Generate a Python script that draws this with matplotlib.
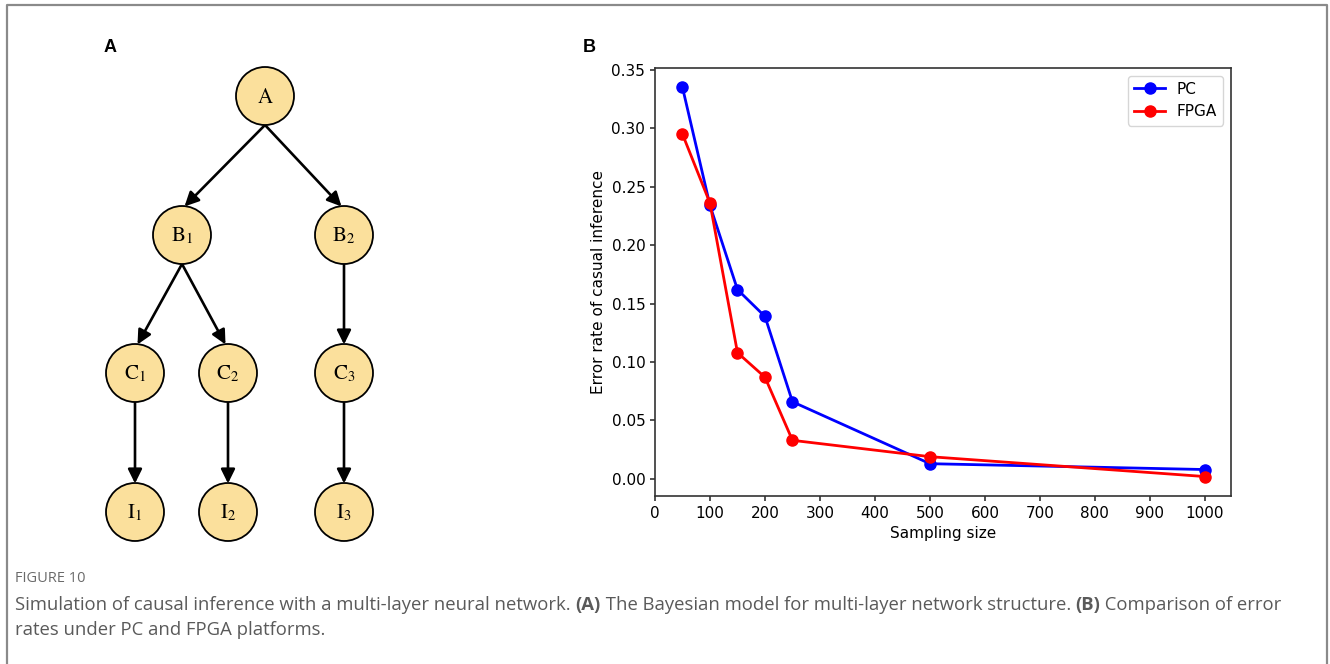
import numpy as np
import matplotlib
matplotlib.use("Agg")
import matplotlib.pyplot as plt
from matplotlib.patches import Circle

# ---------------- data ----------------
sampling_size = [50, 100, 150, 200, 250, 500, 1000]
pc_error = [0.335, 0.234, 0.162, 0.139, 0.066, 0.013, 0.008]
fpga_error = [0.295, 0.236, 0.108, 0.087, 0.033, 0.019, 0.002]
series_labels = ["PC", "FPGA"]
x_ticks = [0, 100, 200, 300, 400, 500, 600, 700, 800, 900, 1000]
y_ticks = [0.00, 0.05, 0.10, 0.15, 0.20, 0.25, 0.30, 0.35]

node_names = ["A", "B1", "B2", "C1", "C2", "C3", "I1", "I2", "I3"]
node_labels = [r"$\mathrm{A}$", r"$\mathrm{B}_{1}$", r"$\mathrm{B}_{2}$",
               r"$\mathrm{C}_{1}$", r"$\mathrm{C}_{2}$", r"$\mathrm{C}_{3}$",
               r"$\mathrm{I}_{1}$", r"$\mathrm{I}_{2}$", r"$\mathrm{I}_{3}$"]
edges = [("A", "B1"), ("A", "B2"), ("B1", "C1"), ("B1", "C2"), ("B2", "C3"),
         ("C1", "I1"), ("C2", "I2"), ("C3", "I3")]

caption_title = "FIGURE 10"
caption_text = [
    ("Simulation of causal inference with a multi-layer neural network. ", False),
    ("(A)", True),
    (" The Bayesian model for multi-layer network structure. ", False),
    ("(B)", True),
    (" Comparison of error", False),
]
caption_line2 = "rates under PC and FPGA platforms."

# ---------------- layout (pixels) ----------------
W, H = 1330, 664
node_pos = {"A": (265, 96), "B1": (182, 235), "B2": (344, 235),
            "C1": (135, 373), "C2": (228, 373), "C3": (344, 373),
            "I1": (135, 512), "I2": (228, 512), "I3": (344, 512)}
R = 29

plt.rcParams["mathtext.fontset"] = "stix"
fig = plt.figure(figsize=(W / 100, H / 100), dpi=100)

bg = fig.add_axes([0, 0, 1, 1])
bg.set_xlim(0, W)
bg.set_ylim(H, 0)
bg.axis("off")

# outer frame
bg.plot([6.5, 6.5, 1326.5, 1326.5], [H + 5, 4.5, 4.5, H + 5], color="#8a8a8a",
        lw=1.6, solid_capstyle="butt", clip_on=False)

# panel labels
bg.text(110, 47, "A", fontsize=13, fontweight="bold", family="Liberation Sans",
        ha="center", va="center")
bg.text(589, 47, "B", fontsize=13, fontweight="bold", family="Liberation Sans",
        ha="center", va="center")

# DAG edges: from bottom of source node to top of target node
for a, b in edges:
    (x0, y0), (x1, y1) = node_pos[a], node_pos[b]
    dx = x1 - x0
    start = (x0, y0 + R)
    end = (x1 - np.sign(dx) * 2.5, y1 - R + 0.5)
    bg.annotate("", xy=end, xytext=start,
                arrowprops=dict(arrowstyle="-|>,head_length=0.85,head_width=0.42",
                                mutation_scale=10, lw=1.9, color="black",
                                shrinkA=0, shrinkB=0))

# DAG nodes
for name, lab in zip(node_names, node_labels):
    x, y = node_pos[name]
    bg.add_patch(Circle((x, y), R, facecolor="#fbe09c", edgecolor="black", lw=1.3, zorder=3))
    bg.text(x, y + 1, lab, fontsize=15, ha="center", va="center", zorder=4)

# caption
bg.text(15, 578, caption_title, fontsize=10.5, color="#6a6a6a", family="Open Sans",
        ha="left", va="center")
xpos = 15
renderer = fig.canvas.get_renderer()
for txt, bold in caption_text:
    t = bg.text(xpos, 605, txt, fontsize=13.3, color="#5a5a5a", family="Open Sans",
                fontweight="bold" if bold else "normal", ha="left", va="center")
    xpos += t.get_window_extent(renderer=renderer).width
bg.text(15, 630, caption_line2, fontsize=13.3, color="#5a5a5a", family="Open Sans",
        ha="left", va="center")

# ---------------- panel B ----------------
ax = fig.add_axes([655 / W, (H - 496) / H, (1231 - 655) / W, (496 - 68) / H])
ax.plot(sampling_size, pc_error, color="blue", marker="o", lw=2, markersize=8,
        label=series_labels[0])
ax.plot(sampling_size, fpga_error, color="red", marker="o", lw=2, markersize=8,
        label=series_labels[1])
ax.set_xticks(x_ticks)
ax.set_yticks(y_ticks)
ax.set_yticklabels([f"{v:.2f}" for v in y_ticks])
ax.tick_params(labelsize=11, color="#333333", width=1.2)
ax.set_xlabel("Sampling size", fontsize=11)
ax.set_ylabel("Error rate of casual inference", fontsize=11)
for s in ax.spines.values():
    s.set_color("#333333")
    s.set_linewidth(1.2)
ax.legend(loc="upper right", fontsize=11)

fig.savefig("out.png", dpi=100)
